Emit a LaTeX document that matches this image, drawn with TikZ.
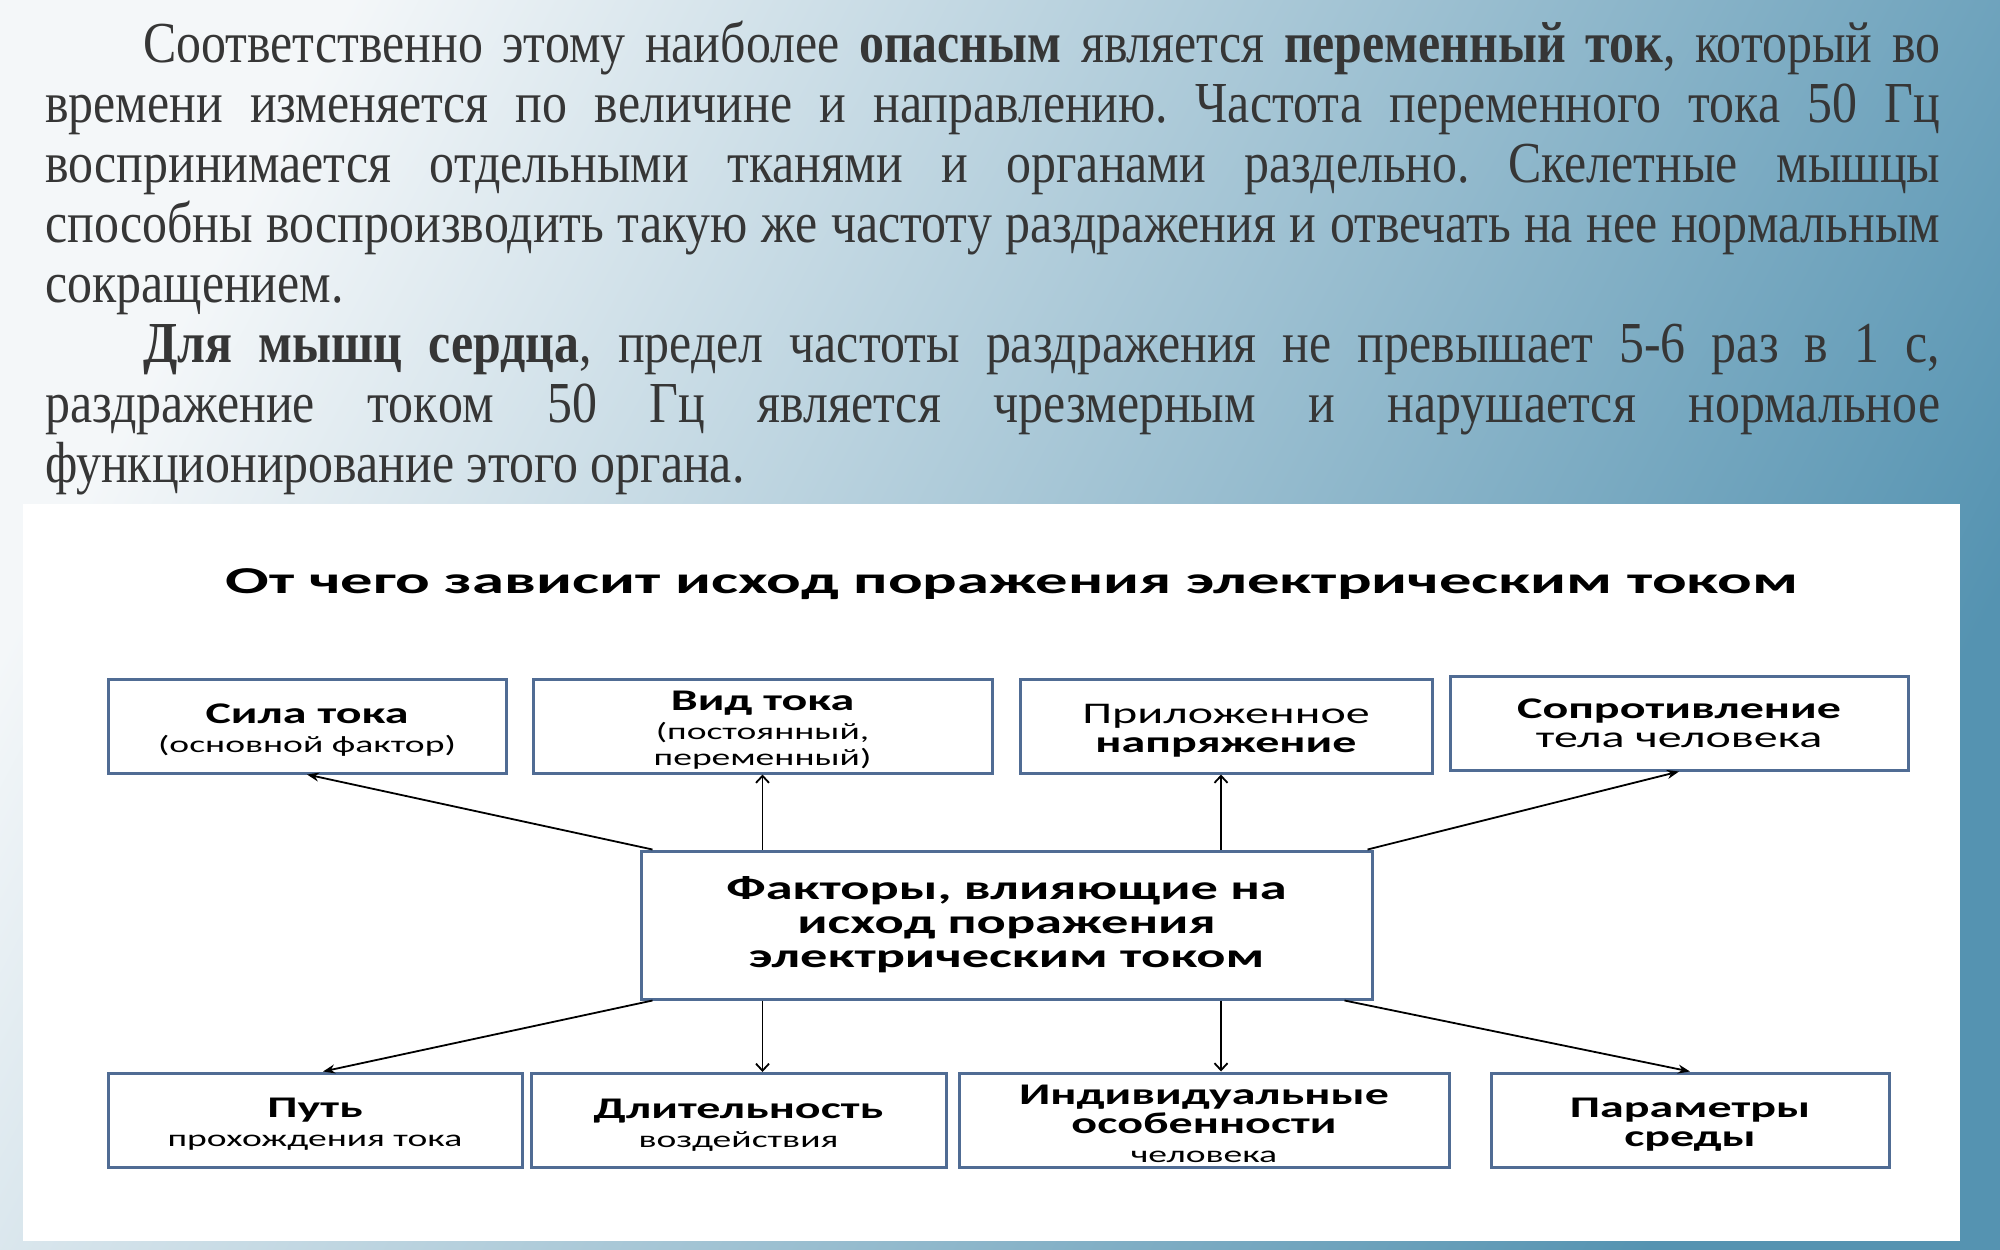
\documentclass[tikz,border=0pt]{standalone}
\usepackage{fontspec}
\setmainfont{Liberation Serif}
\newfontfamily\ptext[FakeStretch=0.86]{Liberation Serif}
\newfontfamily\dg[FakeStretch=1.6]{Carlito}
\newfontfamily\dgt[FakeStretch=1.7]{Carlito}
\usetikzlibrary{arrows.meta,calc}
\definecolor{bgA}{HTML}{F4F7F9}
\definecolor{bgB}{HTML}{5593B1}
\definecolor{ptc}{HTML}{363636}
\definecolor{boxc}{HTML}{506C94}
\newcommand{\sm}{\fontsize{23.5}{28}\selectfont}
\newcommand{\tp}{\rule{0pt}{28pt}}
\begin{document}
\begin{tikzpicture}[x=1pt,y=-1pt,
  ptxt/.style={inner sep=0pt, text=ptc, font=\ptext\fontsize{58}{60}\selectfont\frenchspacing},
  fbox/.style={draw=boxc, line width=3pt, fill=white, inner sep=0pt, align=center,
               minimum height=94pt, font=\dg\fontsize{30}{29}\selectfont},
  farrow/.style={line width=1.8pt, -{Stealth[length=12pt,width=9pt]}},
  oarrow/.style={line width=1.8pt, -{Straight Barb[length=7pt,width=13pt]}}]
\useasboundingbox (0,0) rectangle (2000,1250);
\shade[top color=bgA, bottom color=bgB, shading angle=62] (0,0) rectangle (2000,1250);

% paragraph text
\node[ptxt, anchor=base west] (p1) at (143,62) {\makebox[1797pt][s]{Соответственно этому наиболее \textbf{опасным} является \textbf{переменный ток}, который во}};
\node[ptxt, anchor=base west] (p2) at (45,122) {\makebox[1895pt][s]{времени изменяется по величине и направлению. Частота переменного тока 50 Гц}};
\node[ptxt, anchor=base west] (p3) at (45,182) {\makebox[1895pt][s]{воспринимается отдельными тканями и органами раздельно. Скелетные мышцы}};
\node[ptxt, anchor=base west] (p4) at (45,242) {\makebox[1895pt][s]{способны воспроизводить такую же частоту раздражения и отвечать на нее нормальным}};
\node[ptxt, anchor=base west] (p5) at (45,302) {сокращением.};
\node[ptxt, anchor=base west] (p6) at (143,362) {\makebox[1797pt][s]{\textbf{Для мышц сердца}, предел частоты раздражения не превышает 5-6 раз в 1 с,}};
\node[ptxt, anchor=base west] (p7) at (45,422) {\makebox[1895pt][s]{раздражение токoм 50 Гц является чрезмерным и нарушается нормальное}};
\node[ptxt, anchor=base west] (p8) at (45,482) {функционирование этого органа.};

% diagram panel
\fill[white] (23,504) rectangle (1960,1241);
\node[font=\dgt\bfseries\fontsize{38}{40}\selectfont, anchor=base, inner sep=0pt] (title) at (1012,593) {От чего зависит исход поражения электрическим током};

\node[fbox, minimum width=398pt] (t1) at (307,726) {\tp\textbf{Сила тока}\\{\sm (основной фактор)}};
\node[fbox, minimum width=459pt] (t2) at (762.5,726) {\tp\textbf{Вид тока}\\{\sm (постоянный,}\\[-3pt]{\sm переменный)}};
\node[fbox, minimum width=412pt] (t3) at (1226,726) {\tp Приложенное\\\textbf{напряжение}};
\node[fbox, minimum width=458pt] (t4) at (1679,723) {\textbf{Сопротивление}\\тела человека};

\node[fbox, minimum width=731pt, minimum height=148pt, font=\dg\bfseries\fontsize{34}{34}\selectfont] (c) at (1006.5,925) {Факторы, влияющие на\\исход поражения\\электрическим током};

\node[fbox, minimum width=414pt] (b1) at (315,1120) {\tp\textbf{Путь}\\{\sm прохождения тока}};
\node[fbox, minimum width=415pt] (b2) at (738.5,1120.5) {\tp\textbf{Длительность}\\{\sm воздействия}};
\node[fbox, minimum width=490pt] (b3) at (1204,1120) {\tp\textbf{Индивидуальные}\\\textbf{особенности}\\{\sm человека}};
\node[fbox, minimum width=398pt] (b4) at (1690,1120) {\tp\textbf{Параметры}\\\textbf{среды}};

% connectors
\draw[farrow] ($(c.north west)+(13,0)$) -- (t1.south);
\draw[oarrow] (t2.south |- c.north) -- (t2.south);
\draw[oarrow] ($(t3.south |- c.north)+(-5,0)$) -- ($(t3.south)+(-5,0)$);
\draw[farrow] ($(c.north east)+(-6,0)$) -- (t4.south);
\draw[farrow] ($(c.south west)+(13,0)$) -- ($(b1.north)+(8,0)$);
\draw[oarrow] (t2.south |- c.south) -- (t2.south |- b2.north);
\draw[oarrow] ($(t3.south |- c.south)+(-5,0)$) -- ($(t3.south |- b3.north)+(-5,0)$);
\draw[farrow] ($(c.south east)+(-29,0)$) -- (b4.north);
\end{tikzpicture}
\end{document}
